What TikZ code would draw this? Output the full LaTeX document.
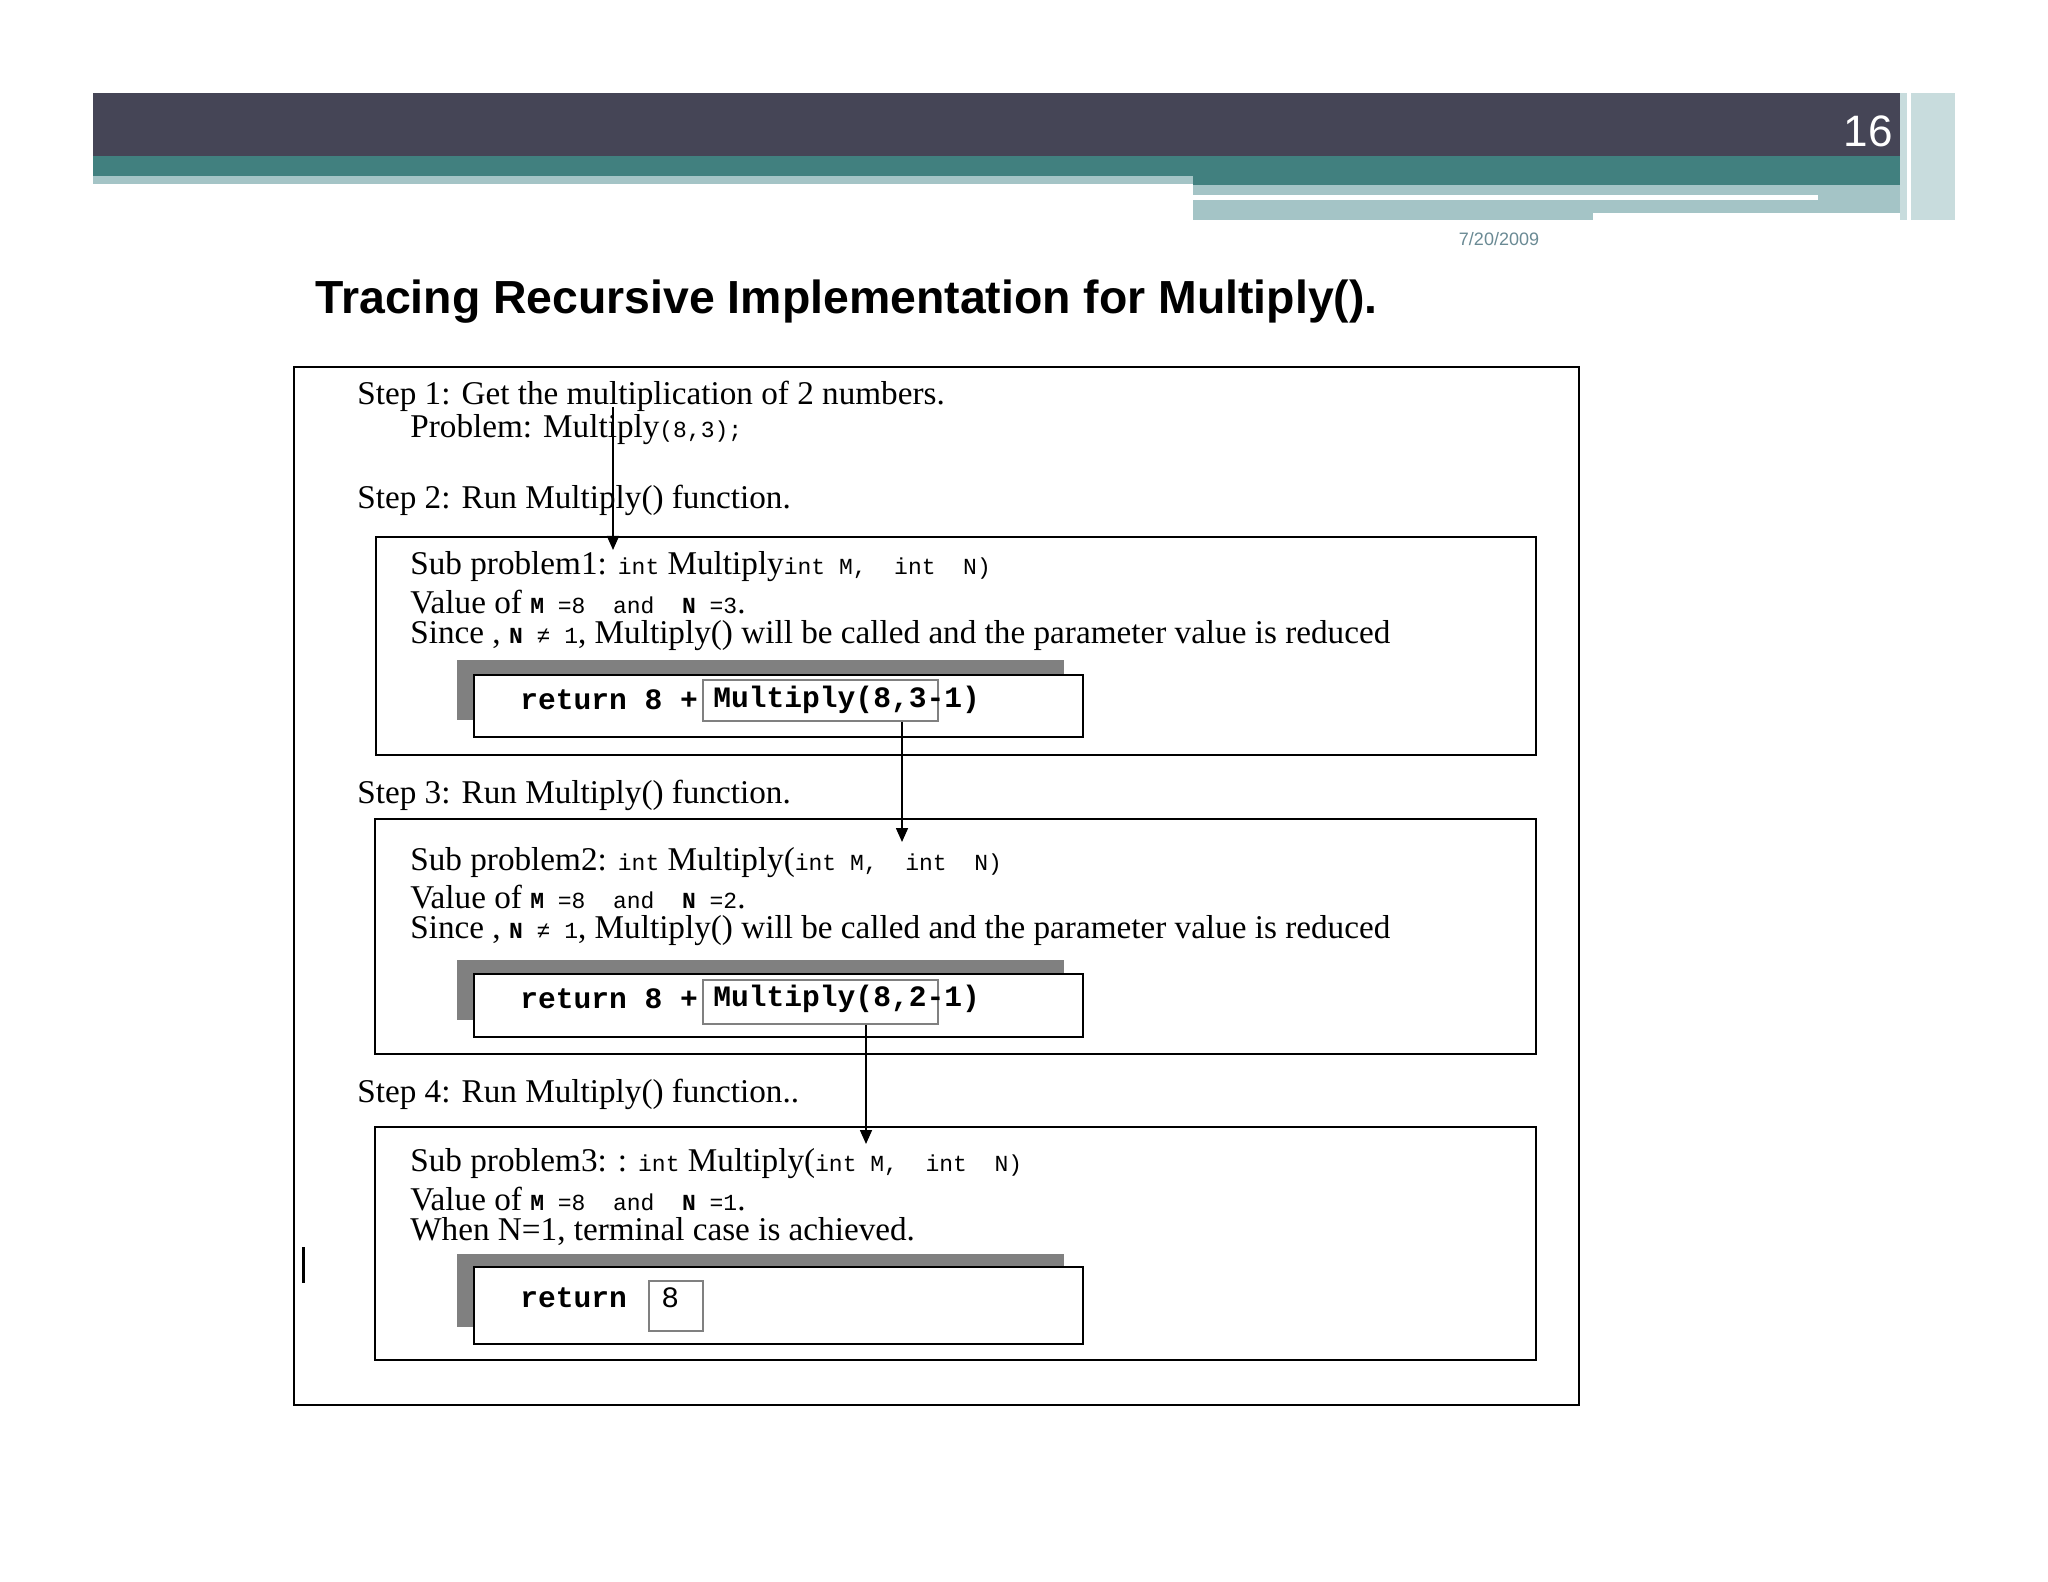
\documentclass[tikz,border=0pt]{standalone}
\usepackage{fontspec}
\setmainfont{Liberation Serif}
\setsansfont{Liberation Sans}
\setmonofont{Liberation Mono}
\usetikzlibrary{arrows.meta}
\definecolor{hdr}{HTML}{454556}
\definecolor{teal}{HTML}{41807F}
\definecolor{lteal}{HTML}{A4C4C6}
\definecolor{datec}{HTML}{6A8A94}
\newcommand{\mc}[1]{{\fontsize{11.5}{13}\selectfont\ttfamily #1}}
\tikzset{
  txt/.style={anchor=west,inner sep=0pt,font=\fontsize{16.6}{18}\selectfont},
  code/.style={anchor=west,inner sep=0pt,font=\fontsize{14.8}{16}\selectfont\ttfamily},
  bigbox/.style={draw,line width=1pt},
  arr/.style={-{Triangle[length=7pt,width=6pt]},line width=0.8pt}
}
\begin{document}
\begin{tikzpicture}[x=0.5pt,y=0.5pt]
\useasboundingbox[fill=white] (0,0) rectangle (2048,-1582);
% header
\fill[hdr] (93,-93) rectangle (1900,-156);
\fill[teal] (93,-156) rectangle (1900,-176);
\fill[lteal] (93,-176) rectangle (1193,-184);
\fill[teal] (1193,-176) rectangle (1900,-185);
\fill[lteal] (1193,-185) rectangle (1900,-213);
\fill[white] (1193,-195) rectangle (1818,-200);
\fill[lteal] (1193,-213) rectangle (1593,-220);
\fill[lteal!60] (1900,-93) rectangle (1955,-220);
\fill[white] (1907,-93) rectangle (1911,-220);
\node[anchor=east,inner sep=0pt,text=white,font=\sffamily\fontsize{22}{24}\selectfont] (num) at (1893,-131) {16};
\node[inner sep=0pt,text=datec,font=\sffamily\fontsize{9}{10}\selectfont] (date) at (1499,-239) {7/20/2009};
\node[anchor=west,inner sep=0pt,font=\sffamily\bfseries\fontsize{23.2}{26}\selectfont] (title) at (315,-302) {Tracing Recursive Implementation for Multiply().};
% outer box
\draw[line width=1pt] (294,-367) rectangle (1579,-1405);
\draw[line width=1.5pt] (303,-1247) -- (303,-1283);
% step 1
\node[txt] (s1) at (357,-396) {Step 1: Get the multiplication of 2 numbers.};
\node[txt] (p1) at (410,-430) {Problem: Multiply\mc{(8,3);}};
\node[txt] (s2) at (357,-500) {Step 2: Run Multiply() function.};
% box 1
\node[bigbox,minimum width=580pt,minimum height=109pt,inner sep=0pt] (b1) at (956,-646) {};
\node[txt] at (410,-567) {Sub problem1: \mc{int} Multiply\mc{int M,\ \ int\ \ N)}};
\node[txt] at (410,-602) {Value of \mc{\textbf{M} =8\ \ and\ \ \textbf{N} =3}.};
\node[txt] at (410,-636) {Since , \mc{\textbf{N} ≠ 1}, Multiply() will be called and the parameter value is reduced};
\fill[gray] (457,-660) rectangle (1064,-720);
\draw[fill=white,line width=1pt] (474,-675) rectangle (1083,-737);
\node[code] at (520,-700) {\textbf{return 8 +}};
\node[draw=gray,line width=0.8pt,minimum width=117.5pt,minimum height=20.5pt,inner sep=0pt] (m1) at (820.5,-700.5) {};
\node[code] at (713,-700) {\textbf{Multiply(8,3-1)}};
% step 3
\node[txt] (s3) at (357,-795) {Step 3: Run Multiply() function.};
\node[bigbox,minimum width=580.5pt,minimum height=117.5pt,inner sep=0pt] (b2) at (955.5,-936.5) {};
\node[txt] at (410,-863) {Sub problem2: \mc{int} Multiply(\mc{int M,\ \ int\ \ N)}};
\node[txt] at (410,-897) {Value of \mc{\textbf{M} =8\ \ and\ \ \textbf{N} =2}.};
\node[txt] at (410,-931) {Since , \mc{\textbf{N} ≠ 1}, Multiply() will be called and the parameter value is reduced};
\fill[gray] (457,-960) rectangle (1064,-1020);
\draw[fill=white,line width=1pt] (474,-974) rectangle (1083,-1037);
\node[code] at (520,-999) {\textbf{return 8 +}};
\node[draw=gray,line width=0.8pt,minimum width=117.5pt,minimum height=22pt,inner sep=0pt] (m2) at (820.5,-1002) {};
\node[code] at (713,-999) {\textbf{Multiply(8,2-1)}};
% step 4
\node[txt] (s4) at (357,-1094) {Step 4: Run Multiply() function..};
\node[bigbox,minimum width=580.5pt,minimum height=116.5pt,inner sep=0pt] (b3) at (955.5,-1243.5) {};
\node[txt] at (410,-1164) {Sub problem3: : \mc{int} Multiply(\mc{int M,\ \ int\ \ N)}};
\node[txt] at (410,-1199) {Value of \mc{\textbf{M} =8\ \ and\ \ \textbf{N} =1}.};
\node[txt] at (410,-1232) {When N=1, terminal case is achieved.};
\fill[gray] (457,-1254) rectangle (1064,-1327);
\draw[fill=white,line width=1pt] (474,-1267) rectangle (1083,-1344);
\node[code] at (520,-1298) {\textbf{return}};
\node[draw=gray,line width=0.8pt,minimum width=27pt,minimum height=25pt,inner sep=0pt] (m3) at (676,-1306) {};
\node[code] at (661,-1298) {8};
% arrows
\coordinate (a1) at (613,-407);
\draw[arr] (a1) -- (613,-550);
\draw[arr] (m1.south -| 902,0) -- (902,-842);
\draw[arr] (m2.south -| 866,0) -- (866,-1144);
\end{tikzpicture}
\end{document}
